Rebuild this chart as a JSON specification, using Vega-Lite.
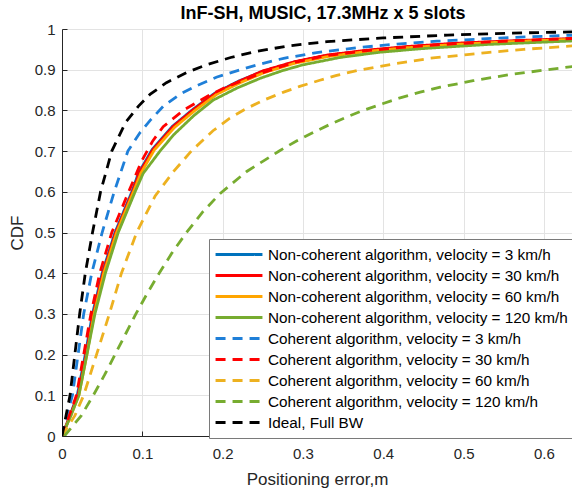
{
  "$schema": "https://vega.github.io/schema/vega-lite/v6.json",
  "width": 510,
  "height": 407,
  "autosize": {"type": "none"},
  "padding": {"left": 62, "top": 29, "right": 0, "bottom": 55},
  "title": {"text": "InF-SH, MUSIC, 17.3MHz x 5 slots", "fontSize": 18, "fontWeight": "bold", "font": "Liberation Sans", "color": "#000000", "offset": -1, "dx": 6},
  "config": {
    "view": {"stroke": null},
    "font": "Liberation Sans",
    "axis": {
      "gridColor": "#e3e3e3",
      "gridWidth": 1,
      "domainColor": "#262626",
      "tickColor": "#262626",
      "labelColor": "#262626",
      "titleColor": "#262626",
      "labelFontSize": 15,
      "titleFontSize": 17,
      "titleFontWeight": "normal",
      "labelFont": "Liberation Sans",
      "titleFont": "Liberation Sans"
    }
  },
  "datasets": {
    "names": [
      {"k": "A", "name": "Non-coherent algorithm, velocity = 3 km/h"},
      {"k": "B", "name": "Non-coherent algorithm, velocity = 30 km/h"},
      {"k": "C", "name": "Non-coherent algorithm, velocity = 60 km/h"},
      {"k": "D", "name": "Non-coherent algorithm, velocity = 120 km/h"},
      {"k": "E", "name": "Coherent algorithm, velocity = 3 km/h"},
      {"k": "F", "name": "Coherent algorithm, velocity = 30 km/h"},
      {"k": "G", "name": "Coherent algorithm, velocity = 60 km/h"},
      {"k": "H", "name": "Coherent algorithm, velocity = 120 km/h"},
      {"k": "I", "name": "Ideal, Full BW"}
    ]
  },
  "data": {
    "values": [
      {"k":"A","x":0,"y":0},{"k":"A","x":0.010,"y":0.05},{"k":"A","x":0.019,"y":0.1},{"k":"A","x":0.029,"y":0.2},{"k":"A","x":0.038,"y":0.3},{"k":"A","x":0.050,"y":0.4},{"k":"A","x":0.066,"y":0.5},{"k":"A","x":0.087,"y":0.6},{"k":"A","x":0.095,"y":0.645},{"k":"A","x":0.112,"y":0.703},{"k":"A","x":0.137,"y":0.76},{"k":"A","x":0.162,"y":0.801},{"k":"A","x":0.190,"y":0.842},{"k":"A","x":0.220,"y":0.872},{"k":"A","x":0.25,"y":0.896},{"k":"A","x":0.29,"y":0.919},{"k":"A","x":0.33,"y":0.935},{"k":"A","x":0.38,"y":0.947},{"k":"A","x":0.43,"y":0.956},{"k":"A","x":0.49,"y":0.964},{"k":"A","x":0.56,"y":0.970},{"k":"A","x":0.64,"y":0.976},
      {"k":"B","x":0,"y":0},{"k":"B","x":0.010,"y":0.05},{"k":"B","x":0.020,"y":0.1},{"k":"B","x":0.030,"y":0.2},{"k":"B","x":0.039,"y":0.3},{"k":"B","x":0.051,"y":0.4},{"k":"B","x":0.067,"y":0.5},{"k":"B","x":0.088,"y":0.6},{"k":"B","x":0.096,"y":0.645},{"k":"B","x":0.113,"y":0.703},{"k":"B","x":0.138,"y":0.76},{"k":"B","x":0.163,"y":0.801},{"k":"B","x":0.191,"y":0.842},{"k":"B","x":0.221,"y":0.872},{"k":"B","x":0.25,"y":0.897},{"k":"B","x":0.29,"y":0.92},{"k":"B","x":0.33,"y":0.936},{"k":"B","x":0.38,"y":0.948},{"k":"B","x":0.43,"y":0.957},{"k":"B","x":0.49,"y":0.965},{"k":"B","x":0.56,"y":0.971},{"k":"B","x":0.64,"y":0.977},
      {"k":"C","x":0,"y":0},{"k":"C","x":0.011,"y":0.05},{"k":"C","x":0.021,"y":0.1},{"k":"C","x":0.031,"y":0.2},{"k":"C","x":0.040,"y":0.3},{"k":"C","x":0.052,"y":0.4},{"k":"C","x":0.068,"y":0.5},{"k":"C","x":0.089,"y":0.6},{"k":"C","x":0.098,"y":0.645},{"k":"C","x":0.115,"y":0.703},{"k":"C","x":0.140,"y":0.758},{"k":"C","x":0.165,"y":0.799},{"k":"C","x":0.193,"y":0.84},{"k":"C","x":0.223,"y":0.869},{"k":"C","x":0.252,"y":0.893},{"k":"C","x":0.29,"y":0.916},{"k":"C","x":0.33,"y":0.932},{"k":"C","x":0.38,"y":0.945},{"k":"C","x":0.43,"y":0.954},{"k":"C","x":0.49,"y":0.962},{"k":"C","x":0.56,"y":0.969},{"k":"C","x":0.64,"y":0.975},
      {"k":"D","x":0,"y":0},{"k":"D","x":0.011,"y":0.05},{"k":"D","x":0.021,"y":0.1},{"k":"D","x":0.031,"y":0.2},{"k":"D","x":0.041,"y":0.3},{"k":"D","x":0.054,"y":0.4},{"k":"D","x":0.070,"y":0.5},{"k":"D","x":0.091,"y":0.6},{"k":"D","x":0.101,"y":0.645},{"k":"D","x":0.122,"y":0.70},{"k":"D","x":0.139,"y":0.74},{"k":"D","x":0.164,"y":0.787},{"k":"D","x":0.188,"y":0.825},{"k":"D","x":0.218,"y":0.855},{"k":"D","x":0.247,"y":0.879},{"k":"D","x":0.275,"y":0.898},{"k":"D","x":0.30,"y":0.912},{"k":"D","x":0.346,"y":0.93},{"k":"D","x":0.396,"y":0.943},{"k":"D","x":0.45,"y":0.952},{"k":"D","x":0.53,"y":0.962},{"k":"D","x":0.64,"y":0.971},
      {"k":"E","x":0,"y":0},{"k":"E","x":0.006,"y":0.05},{"k":"E","x":0.013,"y":0.1},{"k":"E","x":0.020,"y":0.2},{"k":"E","x":0.027,"y":0.3},{"k":"E","x":0.037,"y":0.4},{"k":"E","x":0.050,"y":0.5},{"k":"E","x":0.065,"y":0.6},{"k":"E","x":0.082,"y":0.7},{"k":"E","x":0.097,"y":0.745},{"k":"E","x":0.11,"y":0.776},{"k":"E","x":0.126,"y":0.81},{"k":"E","x":0.147,"y":0.84},{"k":"E","x":0.168,"y":0.861},{"k":"E","x":0.193,"y":0.882},{"k":"E","x":0.222,"y":0.9},{"k":"E","x":0.245,"y":0.913},{"k":"E","x":0.276,"y":0.928},{"k":"E","x":0.317,"y":0.942},{"k":"E","x":0.367,"y":0.954},{"k":"E","x":0.417,"y":0.963},{"k":"E","x":0.467,"y":0.97},{"k":"E","x":0.537,"y":0.977},{"k":"E","x":0.583,"y":0.981},{"k":"E","x":0.64,"y":0.985},
      {"k":"F","x":0,"y":0},{"k":"F","x":0.009,"y":0.05},{"k":"F","x":0.018,"y":0.1},{"k":"F","x":0.027,"y":0.2},{"k":"F","x":0.036,"y":0.3},{"k":"F","x":0.047,"y":0.4},{"k":"F","x":0.062,"y":0.5},{"k":"F","x":0.083,"y":0.6},{"k":"F","x":0.099,"y":0.675},{"k":"F","x":0.113,"y":0.725},{"k":"F","x":0.126,"y":0.76},{"k":"F","x":0.151,"y":0.80},{"k":"F","x":0.168,"y":0.82},{"k":"F","x":0.184,"y":0.838},{"k":"F","x":0.205,"y":0.858},{"k":"F","x":0.230,"y":0.877},{"k":"F","x":0.25,"y":0.893},{"k":"F","x":0.29,"y":0.918},{"k":"F","x":0.33,"y":0.935},{"k":"F","x":0.38,"y":0.947},{"k":"F","x":0.43,"y":0.956},{"k":"F","x":0.49,"y":0.964},{"k":"F","x":0.56,"y":0.971},{"k":"F","x":0.64,"y":0.977},
      {"k":"G","x":0,"y":0},{"k":"G","x":0.016,"y":0.05},{"k":"G","x":0.027,"y":0.1},{"k":"G","x":0.043,"y":0.2},{"k":"G","x":0.059,"y":0.3},{"k":"G","x":0.074,"y":0.4},{"k":"G","x":0.093,"y":0.5},{"k":"G","x":0.116,"y":0.59},{"k":"G","x":0.139,"y":0.65},{"k":"G","x":0.161,"y":0.7},{"k":"G","x":0.188,"y":0.75},{"k":"G","x":0.209,"y":0.781},{"k":"G","x":0.230,"y":0.805},{"k":"G","x":0.251,"y":0.825},{"k":"G","x":0.276,"y":0.845},{"k":"G","x":0.296,"y":0.859},{"k":"G","x":0.321,"y":0.874},{"k":"G","x":0.342,"y":0.886},{"k":"G","x":0.367,"y":0.898},{"k":"G","x":0.413,"y":0.914},{"k":"G","x":0.458,"y":0.928},{"k":"G","x":0.529,"y":0.942},{"k":"G","x":0.575,"y":0.95},{"k":"G","x":0.64,"y":0.959},
      {"k":"H","x":0.003,"y":0},{"k":"H","x":0.024,"y":0.05},{"k":"H","x":0.039,"y":0.1},{"k":"H","x":0.053,"y":0.15},{"k":"H","x":0.066,"y":0.2},{"k":"H","x":0.079,"y":0.25},{"k":"H","x":0.092,"y":0.3},{"k":"H","x":0.106,"y":0.35},{"k":"H","x":0.121,"y":0.4},{"k":"H","x":0.137,"y":0.45},{"k":"H","x":0.155,"y":0.5},{"k":"H","x":0.175,"y":0.55},{"k":"H","x":0.197,"y":0.596},{"k":"H","x":0.230,"y":0.65},{"k":"H","x":0.251,"y":0.676},{"k":"H","x":0.271,"y":0.701},{"k":"H","x":0.292,"y":0.725},{"k":"H","x":0.313,"y":0.746},{"k":"H","x":0.334,"y":0.766},{"k":"H","x":0.355,"y":0.784},{"k":"H","x":0.375,"y":0.8},{"k":"H","x":0.400,"y":0.817},{"k":"H","x":0.421,"y":0.831},{"k":"H","x":0.446,"y":0.845},{"k":"H","x":0.471,"y":0.857},{"k":"H","x":0.512,"y":0.873},{"k":"H","x":0.558,"y":0.888},{"k":"H","x":0.608,"y":0.901},{"k":"H","x":0.64,"y":0.909},
      {"k":"I","x":0,"y":0},{"k":"I","x":0.005,"y":0.05},{"k":"I","x":0.010,"y":0.1},{"k":"I","x":0.016,"y":0.2},{"k":"I","x":0.022,"y":0.3},{"k":"I","x":0.029,"y":0.4},{"k":"I","x":0.038,"y":0.5},{"k":"I","x":0.048,"y":0.6},{"k":"I","x":0.062,"y":0.7},{"k":"I","x":0.079,"y":0.77},{"k":"I","x":0.095,"y":0.81},{"k":"I","x":0.11,"y":0.84},{"k":"I","x":0.13,"y":0.868},{"k":"I","x":0.155,"y":0.893},{"k":"I","x":0.18,"y":0.912},{"k":"I","x":0.21,"y":0.93},{"k":"I","x":0.24,"y":0.944},{"k":"I","x":0.28,"y":0.958},{"k":"I","x":0.33,"y":0.969},{"k":"I","x":0.40,"y":0.978},{"k":"I","x":0.48,"y":0.985},{"k":"I","x":0.56,"y":0.99},{"k":"I","x":0.64,"y":0.993}
    ]
  },
  "transform": [
    {"lookup": "k", "from": {"data": {"name": "names"}, "key": "k", "fields": ["name"]}}
  ],
  "mark": {"type": "line", "strokeWidth": 2.8, "clip": true, "strokeCap": "butt"},
  "encoding": {
    "x": {
      "field": "x", "type": "quantitative",
      "scale": {"domain": [0, 0.635], "nice": false, "zero": false},
      "axis": {"title": "Positioning error,m", "values": [0, 0.1, 0.2, 0.3, 0.4, 0.5, 0.6], "format": ".1~f", "tickSize": -5, "labelPadding": 15, "titlePadding": 10, "labelFlush": false}
    },
    "y": {
      "field": "y", "type": "quantitative",
      "scale": {"domain": [0, 1], "nice": false},
      "axis": {"title": "CDF", "values": [0, 0.1, 0.2, 0.3, 0.4, 0.5, 0.6, 0.7, 0.8, 0.9, 1], "format": ".1~f", "tickSize": -5, "labelPadding": 12, "titlePadding": 8, "labelFlush": false}
    },
    "detail": {"field": "k"},
    "order": {"field": "x", "type": "quantitative"},
    "color": {
      "field": "name", "type": "nominal",
      "scale": {
        "domain": ["Non-coherent algorithm, velocity = 3 km/h", "Non-coherent algorithm, velocity = 30 km/h", "Non-coherent algorithm, velocity = 60 km/h", "Non-coherent algorithm, velocity = 120 km/h", "Coherent algorithm, velocity = 3 km/h", "Coherent algorithm, velocity = 30 km/h", "Coherent algorithm, velocity = 60 km/h", "Coherent algorithm, velocity = 120 km/h", "Ideal, Full BW"],
        "range": ["#0072BD", "#FF0000", "#FFA500", "#77AC30", "#1F7FD8", "#FF0000", "#EDB120", "#77AC30", "#000000"]
      },
      "legend": {
        "title": null, "orient": "none", "legendX": 147, "legendY": 210,
        "symbolType": "stroke", "symbolSize": 2200, "symbolStrokeWidth": 3,
        "labelFontSize": 15.3, "labelFont": "Liberation Sans", "labelColor": "#000000", "labelLimit": 400,
        "labelOffset": 4, "rowPadding": 0, "clipHeight": 21,
        "padding": 5, "strokeColor": "#7a7a7a", "fillColor": "#ffffff"
      }
    },
    "strokeDash": {
      "field": "name", "type": "nominal",
      "scale": {
        "domain": ["Non-coherent algorithm, velocity = 3 km/h", "Non-coherent algorithm, velocity = 30 km/h", "Non-coherent algorithm, velocity = 60 km/h", "Non-coherent algorithm, velocity = 120 km/h", "Coherent algorithm, velocity = 3 km/h", "Coherent algorithm, velocity = 30 km/h", "Coherent algorithm, velocity = 60 km/h", "Coherent algorithm, velocity = 120 km/h", "Ideal, Full BW"],
        "range": [[1, 0], [1, 0], [1, 0], [1, 0], [10, 7], [10, 7], [10, 7], [10, 7], [10, 7]]
      },
      "legend": {
        "title": null, "orient": "none", "legendX": 147, "legendY": 210,
        "symbolType": "stroke", "symbolSize": 2200, "symbolStrokeWidth": 3,
        "labelFontSize": 15.3, "labelFont": "Liberation Sans", "labelColor": "#000000", "labelLimit": 400,
        "labelOffset": 4, "rowPadding": 0, "clipHeight": 21,
        "padding": 5, "strokeColor": "#7a7a7a", "fillColor": "#ffffff"
      }
    }
  }
}
